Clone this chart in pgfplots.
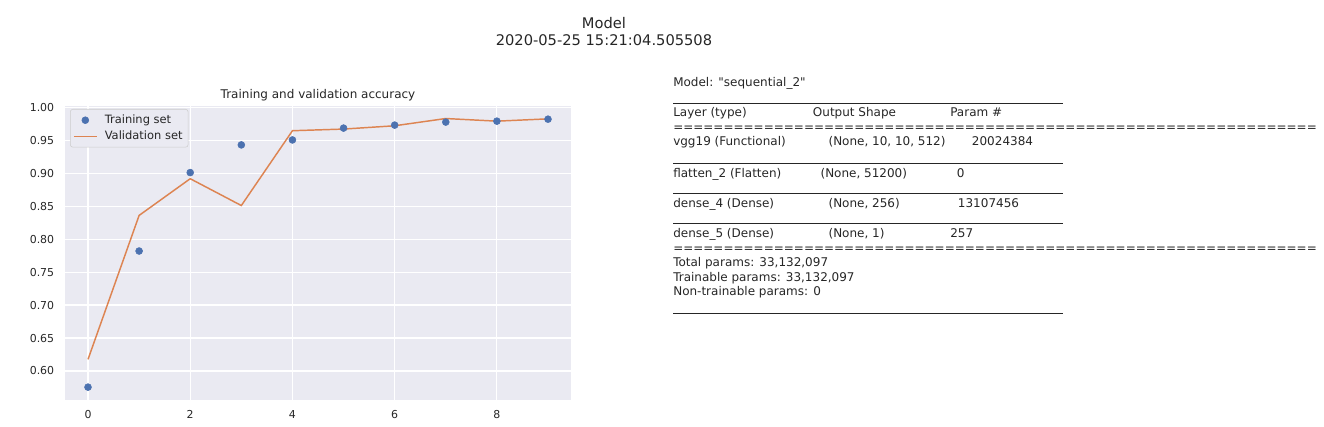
\documentclass[border=0pt]{standalone}
\usepackage{fontspec}
\setmainfont{DejaVu Sans}
\usepackage{pgfplots}
\pgfplotsset{compat=1.18}
\definecolor{sbbg}{HTML}{EAEAF2}
\definecolor{sbblue}{HTML}{4C72B0}
\definecolor{sborange}{HTML}{DD8452}
\definecolor{sbtext}{HTML}{262626}
\newcommand{\rt}[3]{\node[anchor=base west, inner sep=0pt, font=\fontsize{9}{10.8}\selectfont, text=sbtext] at (#1,{426-#2-4.4}) {#3};}
\newcommand{\hr}[1]{\draw[sbtext, line width=0.8pt] (673,{426-#1}) -- (1062.7,{426-#1});}
\def\eqs{================================================================}
\begin{document}
\begin{tikzpicture}[x=0.75pt,y=0.75pt]
\useasboundingbox (0,0) rectangle (1324,426);
\begin{axis}[
  at={(48.75pt,19.5pt)}, anchor=south west,
  scale only axis, width=379.5pt, height=220.5pt,
  xmin=-0.45, xmax=9.45, ymin=0.556, ymax=1.002,
  axis background/.style={fill=sbbg},
  axis line style={draw=none},
  grid=major, major grid style={white, line width=0.9pt},
  major tick length=0pt,
  xtick={0,2,4,6,8},
  ytick={0.60,0.65,0.70,0.75,0.80,0.85,0.90,0.95,1.00},
  /pgf/number format/assume math mode=true,
  yticklabel style={/pgf/number format/.cd, fixed, fixed zerofill, precision=2},
  tick label style={font=\fontsize{8.2}{9.8}\selectfont, text=sbtext},
  xticklabel shift=4.5pt,
  yticklabel shift=4.6pt,
  legend style={at={(0.0099,0.9898)}, anchor=north west, fill=sbbg, draw=black!20, rounded corners=2pt,
    font=\fontsize{8.6}{10.3}\selectfont, text=sbtext, row sep=0pt, inner sep=2.2pt},
  legend cell align=left,
]
\addplot[only marks, mark=*, mark size=2.6pt, color=sbblue, mark options={draw=none, fill=sbblue}] coordinates {
(0,0.5755) (1,0.782) (2,0.901) (3,0.943) (4,0.9505) (5,0.9685) (6,0.973) (7,0.9776) (8,0.979) (9,0.982)
};
\addlegendentry{\hspace{3.5pt}Training set}
\addplot[no marks, color=sborange, line width=1.1pt] coordinates {
(0,0.6176) (1,0.836) (2,0.8917) (3,0.851) (4,0.9645) (5,0.967) (6,0.972) (7,0.983) (8,0.979) (9,0.9825)
};
\addlegendentry{\hspace{3.5pt}Validation set}
\end{axis}
% axes title
\node[anchor=base, inner sep=0pt, font=\fontsize{9}{10.8}\selectfont, text=sbtext] at (318,{426-98}) {Training and validation accuracy};
% suptitle
\node[anchor=base, inner sep=0pt, font=\fontsize{11}{13.2}\selectfont, text=sbtext] at (604,{426-28.3}) {Model};
\node[anchor=base, inner sep=0pt, font=\fontsize{11}{13.2}\selectfont, text=sbtext] at (604,{426-45}) {2020-05-25 15:21:04.505508};
% model summary
\rt{673}{81.7}{Model: \textquotedbl sequential\_2\textquotedbl}
\hr{103.3}
\rt{673}{111.7}{Layer (type)}
\rt{812.7}{111.7}{Output Shape}
\rt{950}{111.7}{Param \#}
\begin{scope}
\clip (0,0) rectangle (1324,426);
\rt{673}{126.7}{\eqs}
\rt{673}{248.3}{\eqs}
\end{scope}
\rt{673}{141}{vgg19 (Functional)}
\rt{828.3}{141}{(None, 10, 10, 512)}
\rt{971.7}{141}{20024384}
\hr{163.3}
\rt{673}{172.7}{flatten\_2 (Flatten)}
\rt{820.3}{172.7}{(None, 51200)}
\rt{956.7}{172.7}{0}
\hr{193.3}
\rt{673}{202.7}{dense\_4 (Dense)}
\rt{828.3}{202.7}{(None, 256)}
\rt{957.7}{202.7}{13107456}
\hr{223.3}
\rt{673}{232.7}{dense\_5 (Dense)}
\rt{828.3}{232.7}{(None, 1)}
\rt{950}{232.7}{257}
\rt{673}{261.7}{Total params: 33,132,097}
\rt{673}{276.7}{Trainable params: 33,132,097}
\rt{673}{291}{Non-trainable params: 0}
\hr{313.3}
\end{tikzpicture}
\end{document}
